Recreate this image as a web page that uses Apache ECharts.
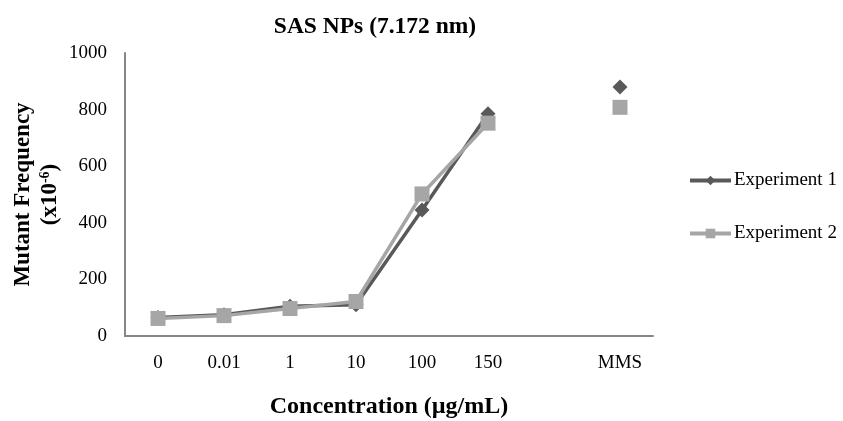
<!DOCTYPE html>
<html><head><meta charset="utf-8">
<script src="https://cdn.jsdelivr.net/npm/echarts@6/dist/echarts.min.js"></script>
<style>html,body{margin:0;padding:0;background:#fff}#c{width:843px;height:421px}</style>
</head><body><div id="c"></div>
<script>
var categories = ['0', '0.01', '1', '10', '100', '150', '', 'MMS'];
var exp1 = [65, 75, 105, 110, 445, 785, null, 880];
var exp2 = [62, 72, 97, 122, 502, 752, null, 808];
var yTicks = [0, 200, 400, 600, 800, 1000];

var F = 'Liberation Serif, Times New Roman, serif';
var chart = echarts.init(document.getElementById('c'));
chart.setOption({
  animation: false,
  backgroundColor: '#fff',
  title: {
    text: 'SAS NPs (7.172 nm)', left: 370, top: 10, textAlign: 'center',
    textStyle: {fontFamily: F, fontSize: 23.5, fontWeight: 'bold', color: '#000'}
  },
  legend: {
    orient: 'vertical', left: 683, top: 166, itemGap: 34, itemWidth: 41, itemHeight: 12,
    lineStyle: {width: 4},
    textStyle: {fontFamily: F, fontSize: 19, color: '#000', padding: [0, 0, 0, -2]},
    data: ['Experiment 1', 'Experiment 2']
  },
  grid: {left: 125, right: 190, top: 53, bottom: 85, outerBoundsMode: 'none', containLabel: false},
  xAxis: {
    type: 'category', data: categories, boundaryGap: true,
    axisLine: {lineStyle: {color: '#868686', width: 2}},
    axisTick: {show: false},
    axisLabel: {fontFamily: F, fontSize: 19, color: '#000', margin: 18},
    name: 'Concentration (\u00b5g/mL)', nameLocation: 'middle', nameGap: 59, nameMoveOverlap: false,
    nameTextStyle: {fontFamily: F, fontSize: 24, fontWeight: 'bold', color: '#000'}
  },
  yAxis: {
    type: 'value', min: yTicks[0], max: yTicks[yTicks.length - 1], interval: 200,
    splitLine: {show: false},
    axisLine: {show: true, lineStyle: {color: '#868686', width: 2}},
    axisTick: {show: false},
    axisLabel: {fontFamily: F, fontSize: 19, color: '#000', margin: 18,
      formatter: function (v) { return String(v); }},
    name: '{b|Mutant Frequency}\n{b|(x10}{s|-6}{b|)}', nameLocation: 'middle', nameGap: 61, nameRotate: 90,
    nameMoveOverlap: false,
    nameTextStyle: {
      fontFamily: F, color: '#000', lineHeight: 27,
      rich: {
        b: {fontFamily: F, fontSize: 23, fontWeight: 'bold', color: '#000', lineHeight: 27},
        s: {fontFamily: F, fontSize: 14, fontWeight: 'bold', color: '#000', lineHeight: 27, padding: [0, 0, 10, 0]}
      }
    }
  },
  series: [
    {
      name: 'Experiment 1', type: 'line', data: exp1, connectNulls: false,
      symbol: 'diamond', symbolSize: 15,
      lineStyle: {color: '#595959', width: 3.5},
      itemStyle: {color: '#595959'}, z: 3
    },
    {
      name: 'Experiment 2', type: 'line', data: exp2, connectNulls: false,
      symbol: 'rect', symbolSize: 15,
      lineStyle: {color: '#a6a6a6', width: 3.5},
      itemStyle: {color: '#a6a6a6'}, z: 4
    }
  ]
});
</script></body></html>
